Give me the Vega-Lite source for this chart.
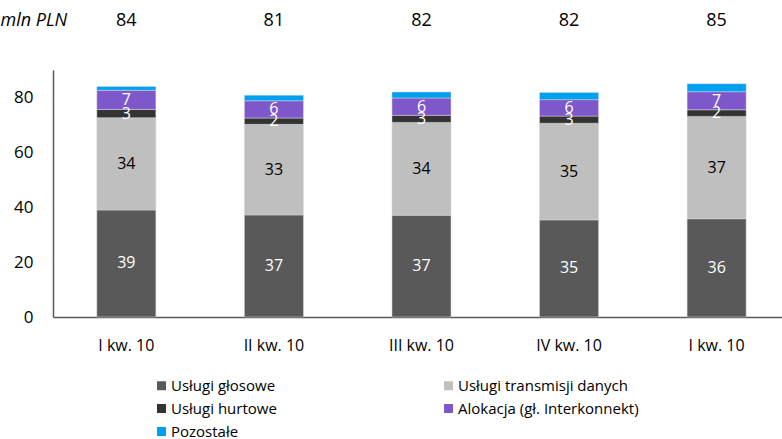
{
  "$schema": "https://vega.github.io/schema/vega-lite/v6.json",
  "width": 729,
  "height": 247,
  "autosize": "none",
  "padding": {"left": 53, "top": 70, "right": 0, "bottom": 122},
  "background": "white",
  "config": {
    "view": {"stroke": null},
    "font": "Open Sans",
    "axis": {"labelFont": "Open Sans", "titleFont": "Open Sans"},
    "legend": {"labelFont": "Open Sans"}
  },
  "data": {
    "values": [
      {"okres": "1|I kw. 10", "seria": "Usługi głosowe", "k": 1, "v": 39.0},
      {"okres": "1|I kw. 10", "seria": "Usługi transmisji danych", "k": 2, "v": 33.6},
      {"okres": "1|I kw. 10", "seria": "Usługi hurtowe", "k": 3, "v": 3.0},
      {"okres": "1|I kw. 10", "seria": "Alokacja (gł. Interkonnekt)", "k": 4, "v": 7.0},
      {"okres": "1|I kw. 10", "seria": "Pozostałe", "k": 5, "v": 1.4},
      {"okres": "2|II kw. 10", "seria": "Usługi głosowe", "k": 1, "v": 37.2},
      {"okres": "2|II kw. 10", "seria": "Usługi transmisji danych", "k": 2, "v": 33.0},
      {"okres": "2|II kw. 10", "seria": "Usługi hurtowe", "k": 3, "v": 2.3},
      {"okres": "2|II kw. 10", "seria": "Alokacja (gł. Interkonnekt)", "k": 4, "v": 6.3},
      {"okres": "2|II kw. 10", "seria": "Pozostałe", "k": 5, "v": 2.0},
      {"okres": "3|III kw. 10", "seria": "Usługi głosowe", "k": 1, "v": 37.1},
      {"okres": "3|III kw. 10", "seria": "Usługi transmisji danych", "k": 2, "v": 33.8},
      {"okres": "3|III kw. 10", "seria": "Usługi hurtowe", "k": 3, "v": 2.6},
      {"okres": "3|III kw. 10", "seria": "Alokacja (gł. Interkonnekt)", "k": 4, "v": 6.3},
      {"okres": "3|III kw. 10", "seria": "Pozostałe", "k": 5, "v": 2.2},
      {"okres": "4|IV kw. 10", "seria": "Usługi głosowe", "k": 1, "v": 35.4},
      {"okres": "4|IV kw. 10", "seria": "Usługi transmisji danych", "k": 2, "v": 35.2},
      {"okres": "4|IV kw. 10", "seria": "Usługi hurtowe", "k": 3, "v": 2.6},
      {"okres": "4|IV kw. 10", "seria": "Alokacja (gł. Interkonnekt)", "k": 4, "v": 6.0},
      {"okres": "4|IV kw. 10", "seria": "Pozostałe", "k": 5, "v": 2.6},
      {"okres": "5|I kw. 10", "seria": "Usługi głosowe", "k": 1, "v": 35.8},
      {"okres": "5|I kw. 10", "seria": "Usługi transmisji danych", "k": 2, "v": 37.3},
      {"okres": "5|I kw. 10", "seria": "Usługi hurtowe", "k": 3, "v": 2.4},
      {"okres": "5|I kw. 10", "seria": "Alokacja (gł. Interkonnekt)", "k": 4, "v": 6.6},
      {"okres": "5|I kw. 10", "seria": "Pozostałe", "k": 5, "v": 2.9}
    ]
  },
  "encoding": {
    "x": {
      "field": "okres",
      "type": "nominal",
      "sort": ["1|I kw. 10", "2|II kw. 10", "3|III kw. 10", "4|IV kw. 10", "5|I kw. 10"],
      "scale": {"paddingInner": 0.6, "paddingOuter": 0.27, "align": 0.55},
      "axis": {
        "title": null,
        "labelAngle": 0,
        "labelExpr": "split(datum.value, '|')[1]",
        "ticks": false,
        "labelPadding": 20,
        "labelFontSize": 16,
        "labelColor": "#000000",
        "domainColor": "#595959",
        "domainWidth": 1.5
      }
    }
  },
  "layer": [
    {
      "mark": {"type": "bar", "stroke": "#d9d9d9", "strokeWidth": 0.5},
      "encoding": {
        "y": {
          "field": "v",
          "type": "quantitative",
          "stack": "zero",
          "scale": {"domain": [0, 90], "nice": false},
          "axis": {
            "title": "mln PLN",
            "titleAngle": 0,
            "titleAlign": "left",
            "titleBaseline": "middle",
            "titleX": -53,
            "titleY": -50,
            "titleFontSize": 18,
            "titleFontStyle": "italic",
            "titleFontWeight": "normal",
            "titleColor": "#000000",
            "values": [0, 20, 40, 60, 80],
            "grid": false,
            "ticks": false,
            "labelPadding": 20,
            "labelFontSize": 17,
            "labelColor": "#000000",
            "domainColor": "#595959",
            "domainWidth": 1.5
          }
        },
        "color": {
          "field": "seria",
          "type": "nominal",
          "scale": {
            "domain": ["Usługi głosowe", "Usługi transmisji danych", "Usługi hurtowe", "Alokacja (gł. Interkonnekt)", "Pozostałe"],
            "range": ["#595959", "#bfbfbf", "#333333", "#7e58cb", "#00a0f0"]
          },
          "legend": {
            "title": null,
            "orient": "none",
            "legendX": 101,
            "legendY": 308,
            "columns": 2,
            "columnPadding": 164,
            "rowPadding": 7,
            "values": ["Usługi głosowe", "Usługi hurtowe", "Pozostałe", "Usługi transmisji danych", "Alokacja (gł. Interkonnekt)"],
            "symbolType": "square",
            "symbolSize": 81,
            "symbolStrokeWidth": 0,
            "labelOffset": 2,
            "labelFontSize": 15,
            "labelColor": "#000000",
            "labelLimit": 300
          }
        },
        "order": {"field": "k", "type": "quantitative"}
      }
    },
    {
      "transform": [
        {"stack": "v", "groupby": ["okres"], "sort": [{"field": "k", "order": "ascending"}], "as": ["y0", "y1"]},
        {"calculate": "(datum.y0 + datum.y1) / 2", "as": "mid"},
        {"filter": "datum.seria !== 'Pozostałe'"}
      ],
      "mark": {"type": "text", "fontSize": 16, "baseline": "middle", "align": "center"},
      "encoding": {
        "y": {"field": "mid", "type": "quantitative"},
        "text": {"field": "v", "type": "quantitative", "format": ".0f"},
        "color": {
          "condition": {"test": "datum.seria === 'Usługi transmisji danych'", "value": "#000000"},
          "value": "#ffffff"
        }
      }
    },
    {
      "transform": [
        {"aggregate": [{"op": "sum", "field": "v", "as": "total"}], "groupby": ["okres"]}
      ],
      "mark": {"type": "text", "fontSize": 18, "baseline": "middle", "align": "center", "color": "#000000"},
      "encoding": {
        "y": {"datum": 108},
        "text": {"field": "total", "type": "quantitative", "format": ".0f"}
      }
    }
  ]
}
